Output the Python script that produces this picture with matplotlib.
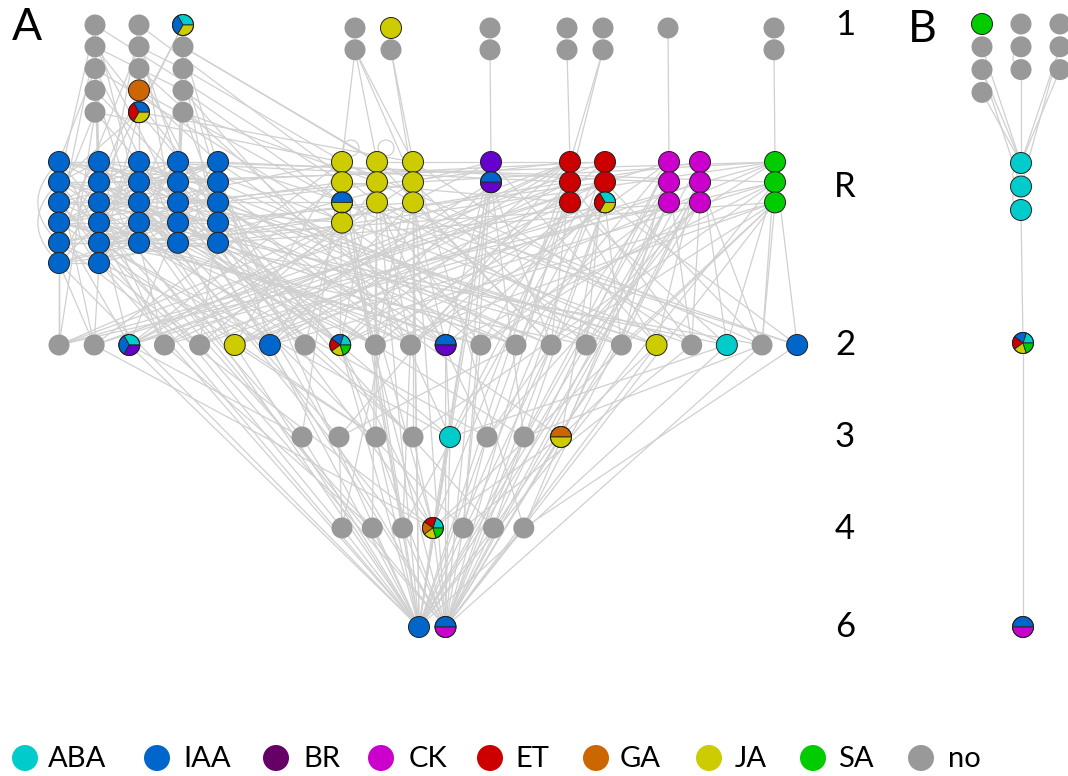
import matplotlib
matplotlib.use("Agg")
import matplotlib.pyplot as plt
from matplotlib.patches import Circle, Wedge, PathPatch
from matplotlib.path import Path
from matplotlib.collections import LineCollection

# ---- data -------------------------------------------------------------
HORMONES = ["ABA", "IAA", "BR", "CK", "ET", "GA", "JA", "SA", "no"]
NODE_COLORS = {"ABA": "#00CCCC", "IAA": "#0066CC", "BR": "#6600CC", "CK": "#CC00CC",
               "ET": "#CC0000", "GA": "#CC6600", "JA": "#CCCC00", "SA": "#00CC00",
               "no": "#999999"}
LEGEND_COLORS = ["#00CCCC", "#0066CC", "#660066", "#CC00CC", "#CC0000",
                 "#CC6600", "#CCCC00", "#00CC00", "#999999"]

# panel A, columns of stacked nodes (top to bottom)
A_LAYER1 = [["no", "no", "no", "no", "no"],
            ["no", "no", "no", "GA", "IAA+ET+JA"],
            ["ABA+IAA+JA", "no", "no", "no", "no"],
            ["no", "no"], ["JA", "no"], ["no", "no"], ["no", "no"],
            ["no", "no"], ["no"], ["no", "no"]]
A_LAYER_R = [["IAA", "IAA", "IAA", "IAA", "IAA", "IAA"],
             ["IAA", "IAA", "IAA", "IAA", "IAA", "IAA"],
             ["IAA", "IAA", "IAA", "IAA", "IAA"],
             ["IAA", "IAA", "IAA", "IAA", "IAA"],
             ["IAA", "IAA", "IAA", "IAA", "IAA"],
             ["JA", "JA", "IAA+JA", "JA"], ["JA", "JA", "JA"], ["JA", "JA", "JA"],
             ["BR", "IAA+BR"],
             ["ET", "ET", "ET"], ["ET", "ET", "ABA+ET+JA"],
             ["CK", "CK", "CK"], ["CK", "CK", "CK"],
             ["SA", "SA", "SA"]]
# panel A, single rows (left to right)
A_LAYER2 = ["no", "no", "ABA+IAA+BR", "no", "no", "JA", "IAA", "no", "ABA+IAA+ET+JA+SA",
            "no", "no", "IAA+BR", "no", "no", "no", "no", "no", "JA", "no", "ABA", "no", "IAA"]
A_LAYER3 = ["no", "no", "no", "no", "ABA", "no", "no", "GA+JA"]
A_LAYER4 = ["no", "no", "no", "ABA+ET+GA+JA+SA", "no", "no", "no"]
A_LAYER6 = ["IAA", "IAA+CK"]

# panel B
B_LAYER1 = [["SA", "no", "no", "no"], ["no", "no", "no"], ["no", "no", "no"]]
B_LAYER_R = [["ABA", "ABA", "ABA"]]
B_LAYER2 = ["ABA+IAA+ET+JA+SA"]
B_LAYER6 = ["IAA+CK"]

LAYER_LABELS = ["1", "R", "2", "3", "4", "6"]

# edges: (source layer, source index, target layer, [target indices])
EDGES = [
    ("1", 0, "R", [1, 8, 14, 28, 6]), ("1", 1, "R", [3, 19, 24]), ("1", 1, "1", [13]),
    ("1", 2, "R", [0, 9, 30]), ("1", 2, "2", [5]), ("1", 3, "R", [6, 15]), ("1", 3, "2", [8]),
    ("1", 4, "R", [2, 12, 27]), ("1", 4, "2", [0]), ("1", 5, "R", [10, 21, 33]),
    ("1", 6, "R", [4, 17]), ("1", 6, "1", [12]), ("1", 7, "R", [13, 25]), ("1", 7, "2", [11]),
    ("1", 8, "R", [7, 22, 29]), ("1", 9, "R", [1, 11, 16, 34]), ("1", 9, "2", [8]),
    ("1", 10, "R", [5, 18]), ("1", 10, "1", [9]), ("1", 11, "R", [20, 31, 35]),
    ("1", 11, "2", [6]), ("1", 12, "R", [23, 26, 36]), ("1", 13, "R", [14, 29]),
    ("1", 13, "2", [10]), ("1", 14, "R", [19, 24, 32]),
    ("1", 16, "R", [27, 31, 34, 35]), ("1", 18, "R", [34, 35]), ("1", 20, "R", [37]),
    ("1", 22, "R", [39]), ("1", 24, "R", [39, 40]), ("1", 25, "R", [45]), ("1", 27, "R", [51]),
    # IAA block, within R
    ("R", 0, "R", [7, 13, 18, 23, 4, 6, 12]), ("R", 1, "R", [6, 14, 20, 24, 5, 7, 18]),
    ("R", 2, "R", [8, 12, 19, 25, 24, 22]), ("R", 3, "R", [9, 16, 17, 22, 21, 14]),
    ("R", 4, "R", [10, 15, 21, 26, 20]), ("R", 5, "R", [11, 13, 20, 26, 16]),
    ("R", 6, "R", [12, 19, 25, 10, 13, 23]), ("R", 7, "R", [14, 17, 26, 11, 12, 21]),
    ("R", 8, "R", [13, 21, 22, 14, 25]), ("R", 9, "R", [15, 18, 24, 16, 12]),
    ("R", 10, "R", [16, 20, 15, 24]), ("R", 11, "R", [14, 23, 17]),
    ("R", 12, "R", [18, 24, 16, 17]), ("R", 13, "R", [19, 22, 18]),
    ("R", 14, "R", [21, 25, 19]), ("R", 15, "R", [17, 23, 20]), ("R", 16, "R", [20, 26, 21]),
    ("R", 17, "R", [24, 21, 22]), ("R", 18, "R", [22, 23]), ("R", 19, "R", [26, 24]),
    ("R", 20, "R", [25, 26]), ("R", 21, "R", [23, 25]), ("R", 22, "R", [26]),
    # IAA block to other R nodes
    ("R", 3, "R", [28]), ("R", 8, "R", [30]), ("R", 14, "R", [27]), ("R", 19, "R", [32]),
    ("R", 24, "R", [29]), ("R", 20, "R", [36]), ("R", 25, "R", [33]), ("R", 11, "R", [37]),
    ("R", 16, "R", [43]), ("R", 21, "R", [48]), ("R", 26, "R", [53]), ("R", 10, "R", [50]),
    # R to lower layers
    ("R", 0, "2", [0, 3]), ("R", 0, "3", [0]), ("R", 1, "2", [1, 7]), ("R", 1, "4", [0]),
    ("R", 2, "2", [4, 9]), ("R", 2, "6", [0]), ("R", 3, "2", [2, 12]), ("R", 3, "3", [2]),
    ("R", 4, "2", [0, 6]), ("R", 4, "4", [3]), ("R", 5, "2", [0, 1]), ("R", 5, "6", [0]),
    ("R", 6, "2", [5, 14]), ("R", 6, "3", [1]), ("R", 7, "2", [8, 10]), ("R", 7, "R", [51]),
    ("R", 8, "2", [3, 13]), ("R", 8, "6", [1]), ("R", 9, "2", [2, 11]), ("R", 9, "4", [1]),
    ("R", 10, "2", [6, 15]), ("R", 10, "3", [4]), ("R", 11, "2", [1, 4]), ("R", 11, "6", [0]),
    ("R", 12, "2", [7, 16]), ("R", 12, "R", [40]), ("R", 13, "2", [9, 17]), ("R", 13, "3", [3]),
    ("R", 14, "2", [5, 8]), ("R", 14, "4", [2]), ("R", 15, "2", [10, 19]), ("R", 15, "6", [0]),
    ("R", 16, "2", [3, 12]), ("R", 16, "3", [5]), ("R", 17, "2", [11, 18]), ("R", 17, "R", [52]),
    ("R", 18, "2", [8, 14]), ("R", 18, "4", [3]), ("R", 19, "2", [6, 13]), ("R", 19, "6", [1]),
    ("R", 20, "2", [2, 16]), ("R", 20, "3", [6]), ("R", 21, "2", [9, 20]), ("R", 21, "4", [4]),
    ("R", 22, "2", [12, 21]), ("R", 22, "R", [46]), ("R", 23, "2", [7, 15]), ("R", 23, "6", [0]),
    ("R", 24, "2", [10, 17]), ("R", 24, "3", [7]), ("R", 25, "2", [4, 11]), ("R", 25, "4", [5]),
    ("R", 26, "2", [8, 13]), ("R", 26, "6", [1]),
    ("R", 27, "2", [5, 8, 1, 20]), ("R", 27, "3", [0]), ("R", 27, "4", [2]),
    ("R", 28, "2", [2, 11]), ("R", 28, "6", [0]), ("R", 28, "R", [41]),
    ("R", 29, "2", [7, 17]), ("R", 29, "3", [4]), ("R", 29, "4", [3]),
    ("R", 30, "2", [4, 13, 0, 9]), ("R", 30, "6", [1]),
    ("R", 31, "2", [8, 14]), ("R", 31, "3", [2]), ("R", 31, "R", [42]),
    ("R", 32, "2", [6, 10]), ("R", 32, "4", [1]), ("R", 32, "6", [0]),
    ("R", 33, "2", [12, 16, 2, 21]), ("R", 33, "3", [5]),
    ("R", 34, "2", [9, 18]), ("R", 34, "6", [0]), ("R", 34, "4", [6]),
    ("R", 35, "2", [3, 15]), ("R", 35, "3", [3]), ("R", 35, "6", [1]),
    ("R", 36, "2", [11, 19, 6, 14]), ("R", 36, "4", [0]), ("R", 36, "6", [0]),
    ("R", 37, "2", [11, 2, 17]), ("R", 37, "6", [0, 1]), ("R", 37, "4", [3]),
    ("R", 38, "2", [8, 5, 14]), ("R", 38, "3", [6]), ("R", 38, "6", [0]), ("R", 38, "4", [4]),
    ("R", 39, "2", [0, 4, 8, 3, 6]), ("R", 39, "3", [1]), ("R", 39, "6", [0]), ("R", 39, "R", [24]),
    ("R", 40, "2", [2, 10, 14, 5, 18]), ("R", 40, "4", [3]), ("R", 40, "6", [1]),
    ("R", 41, "2", [6, 12, 17, 0, 19]), ("R", 41, "3", [4]), ("R", 41, "6", [0]),
    ("R", 42, "2", [1, 9, 15]), ("R", 42, "4", [2]), ("R", 42, "6", [1]), ("R", 42, "R", [18]),
    ("R", 43, "2", [5, 13, 20, 2, 10]), ("R", 43, "3", [7]), ("R", 43, "6", [0]),
    ("R", 44, "2", [8, 11, 16, 4, 21]), ("R", 44, "4", [5]), ("R", 44, "6", [1]),
    ("R", 45, "2", [13, 16, 1, 10]), ("R", 45, "3", [6]), ("R", 45, "6", [1]),
    ("R", 46, "2", [14, 18]), ("R", 46, "4", [6]), ("R", 46, "6", [0]),
    ("R", 47, "2", [12, 15, 3]), ("R", 47, "3", [7]), ("R", 47, "6", [1]),
    ("R", 48, "2", [17, 19]), ("R", 48, "6", [1]),
    ("R", 49, "2", [16, 20, 5]), ("R", 49, "4", [6]), ("R", 49, "6", [0]),
    ("R", 50, "2", [15, 18]), ("R", 50, "3", [5]), ("R", 50, "6", [1]),
    ("R", 51, "2", [2, 8, 21, 20, 12]), ("R", 51, "R", [26, 35]),
    ("R", 52, "2", [5, 11, 19, 0]), ("R", 52, "3", [3]), ("R", 52, "6", [0]),
    ("R", 53, "2", [20, 14, 9, 6, 16]), ("R", 53, "4", [3]), ("R", 53, "6", [1]),
    # lower layers
    ("2", 1, "4", [3]), ("2", 2, "3", [0]), ("2", 2, "6", [0]), ("2", 3, "4", [1]),
    ("2", 4, "6", [1]), ("2", 5, "3", [2]), ("2", 5, "6", [0]), ("2", 6, "6", [0]),
    ("2", 7, "3", [3]), ("2", 8, "3", [4]), ("2", 8, "4", [3]), ("2", 8, "6", [0, 1]),
    ("2", 9, "6", [0]), ("2", 10, "4", [2]), ("2", 11, "6", [1]), ("2", 11, "3", [4]),
    ("2", 12, "4", [4]), ("2", 13, "3", [1]), ("2", 14, "3", [5]), ("2", 14, "6", [0]),
    ("2", 15, "6", [0]), ("2", 16, "4", [5]), ("2", 17, "3", [7]), ("2", 17, "6", [1]),
    ("2", 18, "4", [4]), ("2", 19, "3", [4]), ("2", 19, "6", [0]), ("2", 20, "6", [1]),
    ("2", 20, "3", [6]), ("2", 21, "4", [6]),
    ("3", 0, "6", [0]), ("3", 1, "4", [0]), ("3", 2, "6", [0]), ("3", 3, "4", [3]),
    ("3", 4, "6", [0, 1]), ("3", 5, "4", [4]), ("3", 6, "6", [1]), ("3", 7, "4", [3]),
    ("3", 7, "6", [1]),
    ("4", 0, "6", [0]), ("4", 1, "6", [0]), ("4", 2, "6", [1]), ("4", 3, "6", [0, 1]),
    ("4", 4, "6", [1]), ("4", 5, "6", [0]), ("4", 6, "6", [1]),
    # panel B
    ("b1", 1, "bR", [0]), ("b1", 2, "bR", [0, 1]), ("b1", 3, "bR", [0]),
    ("b1", 5, "b1", [6]), ("b1", 6, "bR", [0]), ("b1", 8, "bR", [0, 1]),
    ("b1", 9, "bR", [0]), ("bR", 0, "bR", [1]), ("bR", 1, "bR", [2]),
    ("bR", 2, "b2", [0]), ("b2", 0, "b6", [0]),
]
SELF_LOOPS = [("R", 27), ("R", 31)]

# ---- layout (pixels) --------------------------------------------------
W, H = 1068, 776
NODE_R = 10.5
A1_X = [95, 139, 183, 355, 391, 490, 567, 603, 668, 774]
A1_TOP = [25, 25, 25, 28, 28, 28, 28, 28, 28, 28]
AR_X = [59, 99, 139, 178, 218, 342, 377, 413, 491, 570, 605, 669, 700, 775]
LAYER_Y = {"1": 25, "R": 187, "2": 345, "3": 437, "4": 529, "6": 627}
LEGEND_CX = [25, 157, 276, 381, 490, 596, 709, 813, 921]
LEGEND_TX = [48, 183, 303, 409, 515, 620, 735, 838, 948]

pos = {}


def place_columns(layer, cols, xs, tops, step):
    k = 0
    for col, x, top in zip(cols, xs, tops):
        for j, t in enumerate(col):
            pos[(layer, k)] = (x, top + j * step, t)
            k += 1


def place_row(layer, types, x0, dx, y):
    for i, t in enumerate(types):
        pos[(layer, i)] = (x0 + i * dx, y, t)


place_columns("1", A_LAYER1, A1_X, A1_TOP, 21.8)
place_columns("R", A_LAYER_R, AR_X, [162] * len(AR_X), 20.2)
place_row("2", A_LAYER2, 59, 35.15, 345)
place_row("3", A_LAYER3, 302, 37, 437)
place_row("4", A_LAYER4, 342, 30.3, 528)
place_row("6", A_LAYER6, 419, 26.5, 627)
place_columns("b1", B_LAYER1, [982, 1021, 1060], [24, 24, 24], 22.8)
place_columns("bR", B_LAYER_R, [1021], [163], 23.5)
place_row("b2", B_LAYER2, 1023, 0, 343)
place_row("b6", B_LAYER6, 1023, 0, 627)

fig = plt.figure(figsize=(W / 100, H / 100), dpi=100)
ax = fig.add_axes([0, 0, 1, 1])
ax.set_xlim(0, W)
ax.set_ylim(H, 0)
ax.axis("off")

EDGE_COLOR = "#D0D0D0"
segs = []
for sl, si, dl, targets in EDGES:
    x1, y1, _ = pos[(sl, si)]
    for di in targets:
        x2, y2, _ = pos[(dl, di)]
        if sl == dl and abs(x1 - x2) < 1:
            # same column in one layer: bow the edge out to the left
            bend = 0.45 * abs(y2 - y1) + 6
            path = Path([(x1, y1), (x1 - bend, (y1 + y2) / 2), (x2, y2)],
                        [Path.MOVETO, Path.CURVE3, Path.CURVE3])
            ax.add_patch(PathPatch(path, fc="none", ec=EDGE_COLOR, lw=0.9, zorder=1))
        else:
            segs.append([(x1, y1), (x2, y2)])
ax.add_collection(LineCollection(segs, colors=EDGE_COLOR, linewidths=0.9, zorder=1))

for layer, i in SELF_LOOPS:
    x, y, _ = pos[(layer, i)]
    ax.add_patch(Circle((x + 9, y - 14), 8, fc="none", ec=EDGE_COLOR, lw=0.9, zorder=1))


def draw_node(x, y, t):
    parts = t.split("+")
    if len(parts) == 1:
        ec = "none" if t == "no" else "#222222"
        ax.add_patch(Circle((x, y), NODE_R, fc=NODE_COLORS[t], ec=ec, lw=0.7, zorder=3))
        return
    n = len(parts)
    for k, p in enumerate(parts):
        t1, t2 = 360 * k / n, 360 * (k + 1) / n
        # y axis is inverted, so angles are mirrored
        ax.add_patch(Wedge((x, y), NODE_R, -t2, -t1, fc=NODE_COLORS[p],
                           ec="#222222", lw=0.6, zorder=3))
    ax.add_patch(Circle((x, y), NODE_R, fc="none", ec="#222222", lw=0.7, zorder=4))


for (layer, i), (x, y, t) in pos.items():
    draw_node(x, y, t)

FONT = ["Lato", "DejaVu Sans"]
for lab in LAYER_LABELS:
    ax.text(845, LAYER_Y[lab], lab, fontsize=25, family=FONT, ha="center", va="center")
ax.text(27, 27, "A", fontsize=32, family=FONT, ha="center", va="center")
ax.text(922, 30, "B", fontsize=32, family=FONT, ha="center", va="center")

for name, c, cx, tx in zip(HORMONES, LEGEND_COLORS, LEGEND_CX, LEGEND_TX):
    ax.add_patch(Circle((cx, 758), 13, fc=c, ec="none", zorder=3))
    ax.text(tx, 759, name, fontsize=21, family=FONT, ha="left", va="center")

fig.savefig("out.png", dpi=100)
